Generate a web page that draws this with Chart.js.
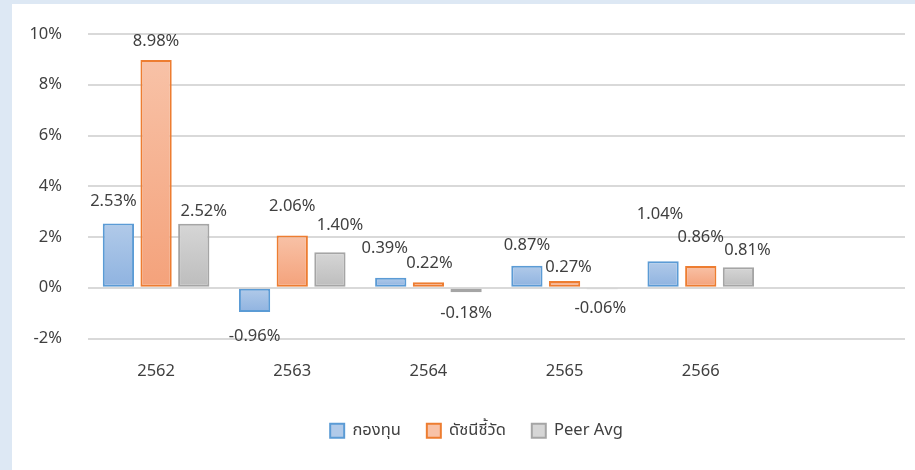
<!DOCTYPE html>
<html>
<head>
<meta charset="utf-8">
<script src="https://cdn.jsdelivr.net/npm/chart.js@4"></script>
<style>
  html, body { margin: 0; padding: 0; }
  body { width: 915px; height: 470px; background: #dde8f4; overflow: hidden; position: relative; }
  #panel { position: absolute; left: 12px; top: 4px; width: 903px; height: 466px; background: #ffffff; }
</style>
</head>
<body>
<div id="panel"><canvas id="returnsChart" width="903" height="466"></canvas></div>
<script>
const categories = ["2562", "2563", "2564", "2565", "2566", ""];
const fundReturns = [2.53, -0.96, 0.39, 0.87, 1.04, null];
const benchmarkReturns = [8.98, 2.06, 0.22, 0.27, 0.86, null];
const peerAvgReturns = [2.52, 1.40, -0.18, -0.06, 0.81, null];
const seriesNames = ["กองทุน", "ดัชนีชี้วัด", "Peer Avg"];
const yMin = -2, yMax = 10, yStep = 2;

// label nudges (px) relative to bar end, mimicking the hand-placed labels
const labelDx = [[-5, 0, -6, 0, -3], [0, 0, 1, 4, 0], [10, 10, 0, -2, 9]];
const labelGap = [[22, 24, 30, 20, 47], [19, 29, 19, 14, 29], [13, 27, 21, 19, 17]];

const fontFamily = "'Noto Sans', 'Noto Sans Thai', Tahoma, 'DejaVu Sans', sans-serif";
const fontSize = 16.5;
const textColor = "#404040";

const styles = [
    { border: "#5b9bd5", top: "#b1cae9", bottom: "#8fb3e0" },
    { border: "#ed7d31", top: "#f8c2a7", bottom: "#f4a27b" },
    { border: "#a5a5a5", top: "#d6d6d6", bottom: "#bdbdbd" }
];

// each bar gets its own top-to-bottom gradient
const gradientBars = {
    id: "gradientBars",
    beforeDatasetsDraw(chart) {
        const ctx = chart.ctx;
        chart.data.datasets.forEach((ds, i) => {
            const meta = chart.getDatasetMeta(i);
            meta.data.forEach(bar => {
                if (bar.y == null || isNaN(bar.y)) return;
                const top = Math.min(bar.y, bar.base);
                const bottom = Math.max(bar.y, bar.base);
                if (bottom - top < 1) return;
                const g = ctx.createLinearGradient(0, top, 0, bottom);
                g.addColorStop(0, styles[i].top);
                g.addColorStop(1, styles[i].bottom);
                bar.options.backgroundColor = g;
            });
        });
    }
};

const valueLabels = {
    id: "valueLabels",
    afterDatasetsDraw(chart) {
        const ctx = chart.ctx;
        ctx.save();
        ctx.font = fontSize + "px " + fontFamily;
        ctx.fillStyle = textColor;
        ctx.textAlign = "center";
        ctx.textBaseline = "middle";
        chart.data.datasets.forEach((ds, i) => {
            const meta = chart.getDatasetMeta(i);
            meta.data.forEach((bar, j) => {
                const v = ds.data[j];
                if (v == null) return;
                const gap = labelGap[i][j];
                const y = v >= 0 ? bar.y - gap : bar.y + gap;
                ctx.fillText(v.toFixed(2) + "%", bar.x + labelDx[i][j], y);
            });
        });
        ctx.restore();
    }
};

// legend in the original sits a little right of the canvas centre
const legendShift = {
    id: "legendShift",
    afterLayout(chart) {
        chart.legend.left += 18;
        chart.legend.right += 18;
    }
};

const allSeries = [fundReturns, benchmarkReturns, peerAvgReturns];

new Chart(document.getElementById("returnsChart"), {
    type: "bar",
    data: {
        labels: categories,
        datasets: allSeries.map((d, i) => ({
            label: seriesNames[i],
            data: d,
            // scriptable so every bar keeps its own options object
            backgroundColor: c => styles[c.datasetIndex].top,
            borderColor: styles[i].border,
            borderWidth: 2,
            borderSkipped: false,
            categoryPercentage: 0.83,
            barPercentage: 0.83
        }))
    },
    options: {
        responsive: false,
        animation: false,
        layout: { padding: { top: 30, right: 10, left: 0, bottom: 21 } },
        plugins: {
            tooltip: { enabled: false },
            legend: {
                position: "bottom",
                labels: {
                    color: textColor,
                    font: { family: fontFamily, size: fontSize },
                    boxWidth: 14,
                    boxHeight: 14,
                    padding: 26,
                    generateLabels(chart) {
                        return chart.data.datasets.map((ds, i) => ({
                            text: ds.label,
                            fillStyle: styles[i].top,
                            strokeStyle: styles[i].border,
                            lineWidth: 2,
                            fontColor: textColor,
                            datasetIndex: i
                        }));
                    }
                }
            }
        },
        scales: {
            x: {
                grid: { display: false, drawTicks: false },
                border: { display: false },
                ticks: { color: textColor, font: { family: fontFamily, size: fontSize }, padding: 23 },
                afterFit(scale) { scale.height = 58; }
            },
            y: {
                min: yMin,
                max: yMax,
                ticks: {
                    stepSize: yStep,
                    color: textColor,
                    font: { family: fontFamily, size: fontSize },
                    padding: 26,
                    callback: v => v + "%"
                },
                grid: { color: "#d9d9d9", lineWidth: 2, drawTicks: false },
                border: { display: false },
                afterFit(scale) {
                    scale.width = 76;
                    scale.paddingTop = 10;
                    scale.paddingBottom = 10;
                }
            }
        }
    },
    plugins: [gradientBars, valueLabels, legendShift]
});
</script>
</body>
</html>
